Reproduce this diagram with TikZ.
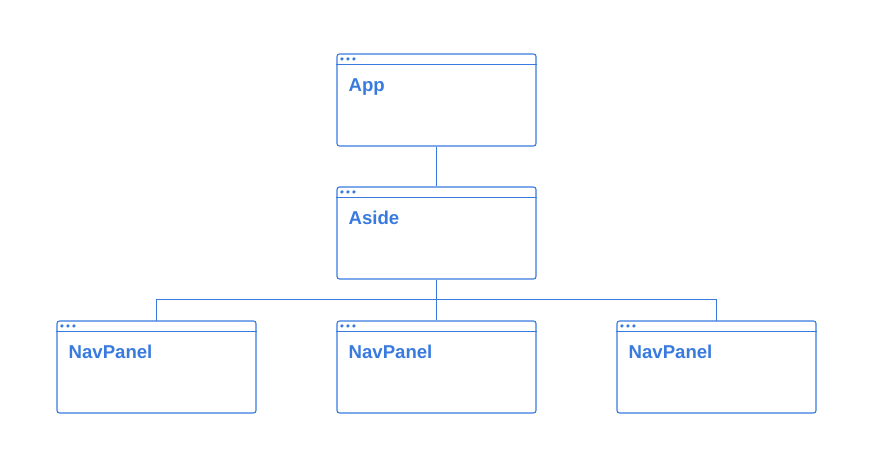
\documentclass[tikz,border=0pt]{standalone}
\usepackage{fontspec}
\setmainfont{Liberation Sans}
\usetikzlibrary{positioning}
\definecolor{winblue}{RGB}{56,122,222}
\tikzset{
  window/.style={draw=winblue, line width=1.1bp, rounded corners=2.5bp, inner sep=0pt,
    minimum width=199bp, minimum height=92bp},
  winlabel/.style={text=winblue, font=\bfseries\fontsize{18.6bp}{21bp}\selectfont, inner sep=0pt},
  link/.style={draw=winblue, line width=1.1bp},
  bar/.style={draw=winblue, line width=1.8bp}
}
\newcommand{\window}[4]{\node[window] (#1) at (#2,#3) {};
					\draw[link] ([yshift=-11bp]#1.north west) -- ([yshift=-11bp]#1.north east);
					\foreach \d in {5.5,11.5,17.5}
						\fill[winblue] ([xshift=\d bp,yshift=-5.5bp]#1.north west) circle [radius=1.8bp];
					\node[winlabel, anchor=base west] (#1-label) at ([xshift=12bp,yshift=-38.5bp]#1.north west) {#4};}
\begin{document}
\begin{tikzpicture}[x=1bp, y=1bp]
					\useasboundingbox (0,0) rectangle (893,-455);

					\window{app}{436.5}{-100}{App}
					\window{aside}{436.5}{-233}{Aside}

					\window{navA}{156.5}{-367}{NavPanel}
					\window{navB}{436.5}{-367}{NavPanel}
					\window{navC}{716.5}{-367}{NavPanel}

					\draw[link] (app.south) -- (aside.north);
					\coordinate (split) at ([yshift=-20bp]aside.south);
					\draw[link] (aside.south) -- (split);
					\draw[link] (split) -- (navB.north);
					\draw[bar] (split) -| ([yshift=-1bp]navA.north);
					\draw[bar] (split) -| ([yshift=-1bp]navC.north);
				\end{tikzpicture}
\end{document}
